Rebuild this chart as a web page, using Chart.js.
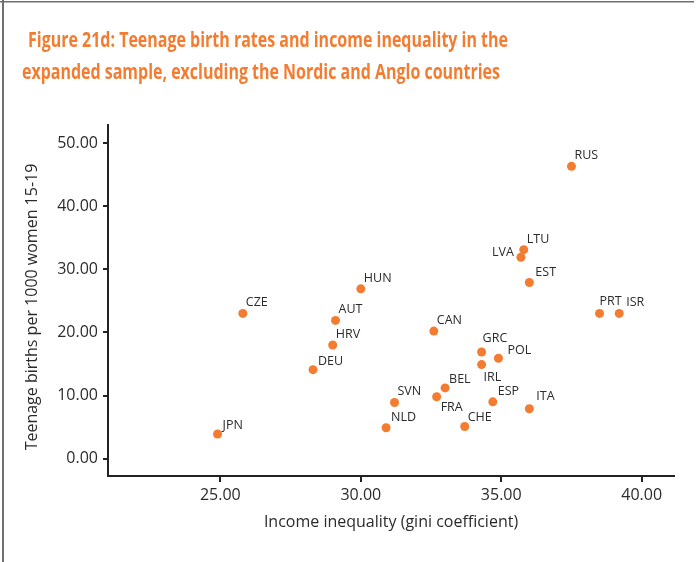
<!DOCTYPE html>
<html>
<head>
<meta charset="utf-8">
<script src="https://cdn.jsdelivr.net/npm/chart.js@4.4.1/dist/chart.umd.min.js"></script>
<style>
  html, body { margin: 0; padding: 0; background: #ffffff; }
  #wrap { width: 697px; height: 562px; position: relative; }
</style>
</head>
<body>
<div id="wrap"><canvas id="c" width="697" height="562"></canvas></div>
<script>
// ---- Data ----
const countries = ["JPN","CZE","AUT","HRV","DEU","HUN","CAN","LTU","LVA","EST","RUS","PRT","ISR","GRC","POL","IRL","BEL","FRA","ESP","ITA","SVN","NLD","CHE"];
const giniValues = [24.9, 25.8, 29.1, 29.0, 28.3, 30.0, 32.6, 35.8, 35.7, 36.0, 37.5, 38.5, 39.2, 34.3, 34.9, 34.3, 33.0, 32.7, 34.7, 36.0, 31.2, 30.9, 33.7];
const birthValues = [3.9, 23.0, 21.9, 18.0, 14.1, 26.9, 20.2, 33.1, 31.9, 27.9, 46.3, 23.0, 23.0, 16.9, 15.9, 14.9, 11.2, 9.8, 9.0, 7.9, 8.9, 4.9, 5.1];
const xTickValues = [25, 30, 35, 40];
const yTickValues = [0, 10, 20, 30, 40, 50];
const titleLines = ["Figure 21d: Teenage birth rates and income inequality in the",
                    "expanded sample, excluding the Nordic and Anglo countries"];
const xTitle = "Income inequality (gini coefficient)";
const yTitle = "Teenage births per 1000 women 15-19";

// ---- Label placement (annotation styling) ----
const defaultLabelOffset = { dx: 3, dy: -7, align: "left" };
const labelOffsets = {
  LVA: { dx: -7, dy: -1, align: "right" },
  IRL: { dx: 2, dy: 16, align: "left" },
  FRA: { dx: 4, dy: 14, align: "left" },
  POL: { dx: 9, dy: -4, align: "left" },
  ITA: { dx: 7, dy: -9, align: "left" },
  GRC: { dx: 1, dy: -10, align: "left" },
  ISR: { dx: 7, dy: -7, align: "left" },
  PRT: { dx: 0, dy: -8, align: "left" },
  EST: { dx: 6, dy: -7, align: "left" },
  ESP: { dx: 5, dy: -7, align: "left" },
  NLD: { dx: 5, dy: -7, align: "left" },
  DEU: { dx: 5, dy: -5, align: "left" },
  JPN: { dx: 5, dy: -5, align: "left" },
  CHE: { dx: 3, dy: -5, align: "left" },
  BEL: { dx: 4, dy: -5, align: "left" }
};

const ORANGE = "#F47C30";
const TEXT = "#2b2b2b";
const FONT = "'Open Sans', 'DejaVu Sans', sans-serif";

const points = countries.map((c, i) => ({ x: giniValues[i], y: birthValues[i], label: c }));

const decorPlugin = {
  id: "decor",
  beforeDraw(chart) {
    const ctx = chart.ctx;
    ctx.save();
    ctx.fillStyle = "#ffffff";
    ctx.fillRect(0, 0, chart.width, chart.height);
    ctx.fillStyle = "#6f6f6f";
    ctx.fillRect(2, 0, 2, chart.height);
    ctx.fillRect(0, 1, 694, 1.5);
    ctx.restore();
  },
  afterDraw(chart) {
    const ctx = chart.ctx;
    ctx.save();
    // Main title, fit to the reference widths
    ctx.fillStyle = ORANGE;
    ctx.textBaseline = "alphabetic";
    ctx.textAlign = "left";
    ctx.font = "bold 21.5px " + FONT;
    const specs = [{ x: 28, y: 47, w: 480 }, { x: 22, y: 79, w: 478 }];
    titleLines.forEach((t, i) => {
      const m = ctx.measureText(t).width;
      const s = specs[i].w / m;
      ctx.save();
      ctx.translate(specs[i].x, specs[i].y);
      ctx.scale(s, 1);
      ctx.fillText(t, 0, 0);
      ctx.restore();
    });
    // Axis titles
    ctx.fillStyle = TEXT;
    ctx.font = "16px " + FONT;
    ctx.textAlign = "center";
    ctx.textBaseline = "middle";
    const ca = chart.chartArea;
    ctx.fillText(xTitle, (ca.left + ca.right) / 2, 522);
    ctx.save();
    ctx.translate(32, 307);
    ctx.rotate(-Math.PI / 2);
    ctx.fillText(yTitle, 0, 0);
    ctx.restore();
    // Point labels
    const meta = chart.getDatasetMeta(0);
    ctx.font = "12.5px " + FONT;
    ctx.textBaseline = "alphabetic";
    meta.data.forEach((el, i) => {
      const lab = points[i].label;
      const o = labelOffsets[lab] || defaultLabelOffset;
      ctx.textAlign = o.align;
      ctx.fillText(lab, el.x + o.dx, el.y + o.dy);
    });
    ctx.restore();
  }
};

new Chart(document.getElementById("c"), {
  type: "scatter",
  data: {
    datasets: [{
      data: points,
      backgroundColor: ORANGE,
      borderWidth: 0,
      pointRadius: 4.5,
      pointHoverRadius: 4.5
    }]
  },
  options: {
    responsive: false,
    animation: false,
    events: [],
    layout: { padding: { top: 125, right: 23, left: 0, bottom: 0 } },
    plugins: { legend: { display: false }, tooltip: { enabled: false }, title: { display: false } },
    scales: {
      x: {
        type: "linear",
        min: 21,
        max: 41.15,
        afterBuildTicks(scale) { scale.ticks = xTickValues.map(v => ({ value: v })); },
        afterFit(scale) { scale.height = 562 - 476; },
        grid: { display: true, drawOnChartArea: false, drawTicks: true, tickLength: 6, color: "#222", lineWidth: 2 },
        border: { display: true, color: "#222", width: 2 },
        ticks: {
          callback: v => Number(v).toFixed(2),
          font: { family: FONT, size: 16 },
          color: TEXT,
          padding: 4,
          maxRotation: 0
        }
      },
      y: {
        type: "linear",
        min: -2.75,
        max: 52.85,
        afterBuildTicks(scale) { scale.ticks = yTickValues.map(v => ({ value: v })); },
        afterFit(scale) { scale.width = 108; },
        grid: { display: true, drawOnChartArea: false, drawTicks: true, tickLength: 5, color: "#222", lineWidth: 2 },
        border: { display: true, color: "#222", width: 2 },
        ticks: {
          callback: v => Number(v).toFixed(2),
          font: { family: FONT, size: 16 },
          color: TEXT,
          padding: 5
        }
      }
    }
  },
  plugins: [decorPlugin]
});
</script>
</body>
</html>
